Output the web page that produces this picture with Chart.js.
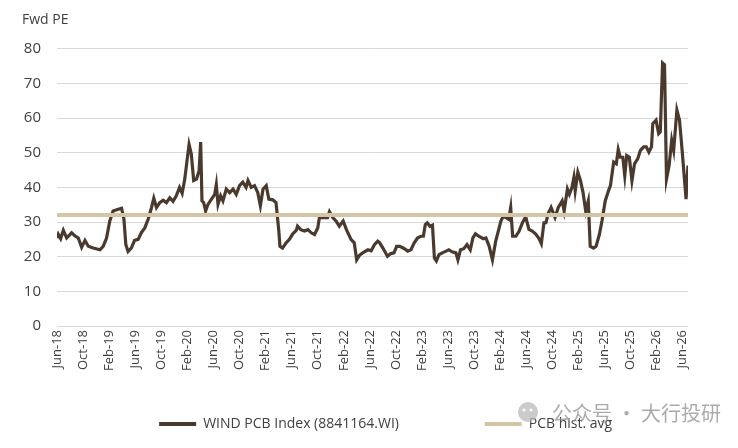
<!DOCTYPE html>
<html><head><meta charset="utf-8">
<script src="https://cdn.jsdelivr.net/npm/chart.js@4.4.1/dist/chart.umd.min.js"></script>
<style>html,body{margin:0;padding:0;background:#fff;}#wrap{width:738px;height:448px;position:relative;}</style>
</head><body><div id="wrap"><canvas id="c" width="738" height="448"></canvas></div>
<script>
const tickLabels = ['Jun-18','Oct-18','Feb-19','Jun-19','Oct-19','Feb-20','Jun-20','Oct-20','Feb-21','Jun-21','Oct-21','Feb-22','Jun-22','Oct-22','Feb-23','Jun-23','Oct-23','Feb-24','Jun-24','Oct-24','Feb-25','Jun-25','Oct-25','Feb-26','Jun-26'];

// months since Jun-18
const months = [0,0.2,0.56,0.97,1.48,2.24,2.76,3.27,3.78,4.29,4.8,5.56,6.58,7.09,7.6,8.1,8.6,9.4,9.9,10.26,10.56,10.9,11.4,11.9,12.45,12.96,13.47,13.98,14.5,14.85,15.26,15.77,16.28,16.79,17.3,17.8,18.3,18.8,19.2,19.6,19.95,20.26,20.6,20.97,21.4,21.8,22.04,22.24,22.5,22.8,23.16,23.7,24.2,24.44,24.7,25.1,25.46,25.97,26.5,27,27.5,28,28.5,29,29.3,29.8,30.3,30.8,31.2,31.6,32.1,32.5,33.1,33.6,34.03,34.2,34.6,35.15,35.66,36.17,36.7,36.9,37.4,37.96,38.5,39,39.5,40,40.26,40.77,41.5,41.8,42.3,42.8,43.3,43.9,44.4,45.1,45.6,45.97,46.4,46.9,47.7,48.2,48.7,49.2,49.5,50,50.7,51.2,51.7,52.1,52.6,53.3,53.8,54.3,54.8,55.3,55.8,56.2,56.5,56.8,57.2,57.6,57.9,58.2,58.6,59.1,59.7,60.1,60.6,61.2,61.5,61.9,62.4,62.9,63.4,63.8,64.2,64.7,65.4,65.8,66.3,66.8,67.3,67.7,68.1,68.4,68.9,69.3,69.6,69.9,70.4,70.9,71.4,71.9,72.4,72.9,73.4,73.9,74.3,74.7,75,75.4,75.8,76.4,76.9,77.5,77.8,78.3,78.6,79,79.3,79.5,79.9,80.3,80.7,81.1,81.5,81.8,82.3,82.7,83.2,83.6,84.1,84.6,84.9,85.4,85.8,86.1,86.4,86.8,87.1,87.4,87.8,88.2,88.6,89.1,89.5,90,90.4,90.8,91.2,91.4,91.9,92.3,92.55,92.9,93.2,93.5,93.9,94.3,94.6,95.1,95.5,95.9,96.5,96.8];

const pe = [25.4,26.5,25.2,27.6,25.4,26.9,26,25.4,22.7,24.7,23,22.5,22,23,25.4,30.3,33.2,33.7,34,31,23.5,21.5,22.5,24.7,25,27,28.3,30.8,34.2,36.9,34.2,35.6,36.3,35.6,37,36,37.6,40,38.3,42.4,47.8,52.4,49.7,42,42.4,44.8,53.1,36.1,35.6,33.2,35.1,36.6,38,40.8,35.1,37.6,36.1,39.5,38.5,39.5,38,40.5,41.5,40,42,40,40.5,38.5,34.7,39.5,40.5,36.6,36.4,35.6,27.4,23,22.5,24,25,26.6,27.6,28.8,27.8,27.4,27.8,26.9,26.4,28.3,31.3,31.3,31.3,33,31.3,30.3,28.8,30.3,27.8,25,24,19.1,20.4,21.1,22,21.7,23.5,24.5,24,22.5,20.1,20.9,21.1,23,23,22.3,21.6,22,24,25.4,25.9,25.9,29.3,29.8,28.8,29.1,19.6,18.8,20.6,21.1,21.6,22,21.4,21.1,19.1,22,22.3,23.5,22,25.4,26.6,25.9,25.2,25.4,23,19.1,24.5,27.4,30.3,31.5,31.3,30.8,34.2,25.9,25.9,27.4,29.8,31.5,27.9,27.4,26.6,25.4,23.8,29.8,29.8,32.7,34.2,31.3,34.2,36.1,33.2,39.5,38,40,42.9,39,44.4,42,38.5,33.2,36.1,23,22.5,23,26.4,30.3,36.1,39,40.5,47.3,46.8,50.9,48.7,48.7,43.4,49.2,48.7,41.9,46.8,48.3,50.7,51.7,51.7,50.2,51.7,58.4,59.4,55.5,56,75.9,75.4,42.4,46.3,53.6,50.7,62.3,59.4,50.7,36.6,46.3];

const histAvgMonths = [0, 96.8];
const histAvg = [32, 32];

const yTicks = [0,10,20,30,40,50,60,70,80];

Chart.defaults.font.family = '"Open Sans","Noto Sans",sans-serif';
Chart.defaults.color = '#404040';

const watermark = {
  id: 'watermark',
  afterDraw(chart) {
    const ctx = chart.ctx;
    ctx.save();
    ctx.beginPath();
    ctx.arc(528, 412, 10, 0, Math.PI * 2);
    ctx.fillStyle = 'rgba(185,185,185,0.75)';
    ctx.fill();
    ctx.fillStyle = 'rgba(255,255,255,0.9)';
    ctx.beginPath(); ctx.arc(524, 410, 1.6, 0, Math.PI * 2); ctx.fill();
    ctx.beginPath(); ctx.arc(531, 410, 1.6, 0, Math.PI * 2); ctx.fill();
    ctx.fillStyle = 'rgba(150,150,150,0.8)';
    ctx.font = '20px "Noto Sans CJK SC"';
    ctx.textBaseline = 'middle';
    ctx.fillText('公众号 · 大行投研', 552, 413);
    ctx.restore();
  }
};

new Chart(document.getElementById('c'), {
  type: 'line',
  data: {
    datasets: [
      {
        label: 'WIND PCB Index (8841164.WI)',
        data: months.map((m, i) => ({x: m, y: pe[i]})),
        borderColor: '#4A3A2E',
        backgroundColor: '#4A3A2E',
        borderWidth: 3.2,
        pointRadius: 0,
        tension: 0,
        order: 2
      },
      {
        label: 'PCB hist. avg',
        data: histAvgMonths.map((m, i) => ({x: m, y: histAvg[i]})),
        borderColor: '#D4C5A7',
        backgroundColor: '#D4C5A7',
        borderWidth: 4,
        pointRadius: 0,
        order: 1
      }
    ]
  },
  options: {
    responsive: false,
    animation: false,
    layout: {padding: {left: 22, right: 50, top: 0, bottom: 7}},
    plugins: {
      title: {
        display: true, text: 'Fwd PE', align: 'start', color: '#404040',
        font: {size: 14, weight: 'normal'}, padding: {top: 12, bottom: 20}
      },
      tooltip: {enabled: false},
      legend: {
        position: 'bottom',
        onClick: (e, item, legend) => {
          if (item.datasetIndex < 0) return;
          Chart.defaults.plugins.legend.onClick.call(legend, e, item, legend);
        },
        labels: {
          usePointStyle: true,
          pointStyle: 'line',
          pointStyleWidth: 37,
          boxHeight: 4,
          padding: 10,
          color: '#404040',
          font: {size: 14},
          generateLabels: (chart) => {
            const ds = chart.data.datasets;
            const item = (i) => ({
              text: ds[i].label, fillStyle: ds[i].borderColor, strokeStyle: ds[i].borderColor,
              lineWidth: 4, pointStyle: 'line', hidden: !chart.isDatasetVisible(i),
              datasetIndex: i, fontColor: '#404040'
            });
            const spacer = (t) => ({
              text: t, fillStyle: 'rgba(0,0,0,0)', strokeStyle: 'rgba(0,0,0,0)',
              lineWidth: 1, pointStyle: 'line', hidden: false, datasetIndex: -1, fontColor: 'rgba(0,0,0,0)'
            });
            return [spacer('  '), item(0), spacer('      '), item(1)];
          }
        }
      }
    },
    scales: {
      x: {
        type: 'linear',
        min: 0,
        max: months[months.length - 1],
        afterBuildTicks: (s) => { s.ticks = tickLabels.map((_, i) => ({value: i * 4})); },
        ticks: {
          autoSkip: false, maxRotation: 90, minRotation: 90, padding: 4,
          color: '#404040', font: {size: 13},
          callback: (v, i) => tickLabels[i]
        },
        grid: {display: false, drawTicks: false},
        border: {display: false},
        afterFit: (s) => { s.height = 81; }
      },
      y: {
        min: 0, max: 80,
        afterBuildTicks: (s) => { s.ticks = yTicks.map(v => ({value: v})); },
        ticks: {padding: 16, color: '#404040', font: {size: 15}},
        grid: {color: '#D9D9D9', drawTicks: false, lineWidth: 1},
        border: {display: false},
        afterFit: (s) => { s.width = 35; }
      }
    }
  },
  plugins: [watermark]
});
</script>
</body></html>
